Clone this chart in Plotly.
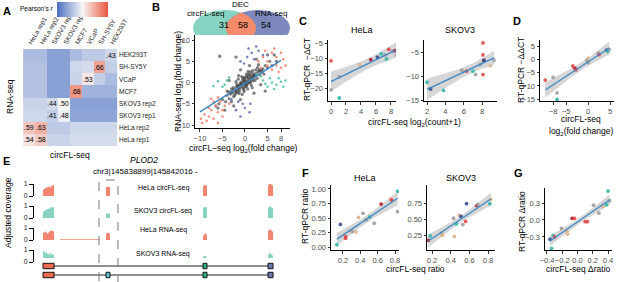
import numpy as np
import plotly.graph_objects as go

W, H = 617, 282
FONT = "Liberation Sans, Arial, sans-serif"
TICK_C = "#4d4d4d"

def dom_x(a, b):
    return [a / W, b / W]

def dom_y(top, bottom):
    return [1 - bottom / H, 1 - top / H]

def px(x):
    return x / W

def py(y):
    return 1 - y / H

# ---------------- A: correlation heatmap ----------------
samples = ["HeLa rep1", "HeLa rep2", "SKOV3 rep1", "SKOV3 rep2", "MCF7", "VCaP", "SH-SY5Y", "HEK293T"]
cell_group = [0, 0, 1, 1, 2, 3, 4, 5]
corr = [
    [0.54, 0.58, 0.42, 0.42, 0.44, 0.44, 0.44, 0.44],
    [0.59, 0.63, 0.40, 0.40, 0.43, 0.43, 0.43, 0.43],
    [0.43, 0.43, 0.41, 0.48, 0.32, 0.32, 0.32, 0.32],
    [0.42, 0.42, 0.44, 0.50, 0.31, 0.31, 0.31, 0.31],
    [0.38, 0.38, 0.31, 0.31, 0.68, 0.35, 0.35, 0.35],
    [0.38, 0.38, 0.31, 0.31, 0.42, 0.53, 0.41, 0.37],
    [0.38, 0.38, 0.31, 0.31, 0.43, 0.44, 0.66, 0.41],
    [0.37, 0.37, 0.31, 0.31, 0.37, 0.40, 0.40, 0.43],
]

# ---------------- B: Venn + scatter ----------------
venn_counts = [31, 58, 54]
gray_x = [-0.5, 0.2, 0.8, -1.0, 1.5, -1.6, 2.0, -2.2, 0.5, -0.4, 1.0, -1.2, 2.5, -2.8, 3.0, -3.2, 0.0, 0.0, 1.8,
          -1.8, 2.8, -2.5, 3.6, -3.5, 1.2, -1.3, 0.6, -0.7, 4.0, -4.0, 2.2, -2.0, 1.4, -1.5, 0.3, -0.2, 3.3, -3.0,
          4.5, -4.3, 0.9, -0.9, 2.4, -2.3, 1.7, -1.9, 0.4, -0.3, 3.8, -3.6, 5.0, -5.0, 1.1, -1.1, 2.7, -2.6, 0.7,
          -0.6, 3.0, -3.0, 1.6, -1.4, 4.2, -4.0, 2.0, -2.0, 0.1, 0.3, -0.2, 1.3, -1.3, 5.5, -5.8, 6.0, -6.0, -2.0,
          4.5, -3.5, 3.5, 2.0, -1.0, 1.0, -1.0, 6.5, -6.5, 7.0, 5.0, -4.5, 2.5, -2.5, -5.6, 0.6, -0.8, 1.9, -1.7,
          -0.1, 0.4, -0.6, 0.9, -1.2, 1.4, -0.3, 0.7, -0.9, 1.1, -1.6, 2.1, -2.4, 0.2, -0.5, 1.6, -1.1, 2.6,
          -2.9, 3.2, 0.0, 0.5, -0.2, 1.2, -0.7, 0.3, -1.4, 1.8, -2.1, 2.3, 3.4, -3.3, 0.8, -0.4, 1.0, -1.9]
gray_y = [-0.3, 0.4, 0.6, -0.8, 1.2, -1.4, 1.5, -1.8, -0.4, 0.5, 1.8, -2.0, 2.2, -2.4, 2.6, -2.7, 1.0, -1.0, 0.4,
          -0.4, 3.5, -3.3, 3.0, -3.8, 2.5, -2.6, -1.5, 1.4, 3.2, -3.0, 0.5, 0.2, -0.6, 0.8, 2.0, -2.1, 1.8, -1.5,
          4.0, -4.5, 0.0, 0.1, 3.0, -3.0, 2.8, -1.0, 1.5, -1.6, 2.5, -2.2, 3.5, -4.0, 0.9, -1.2, 1.0, -1.2, 2.6,
          -2.8, 4.2, -4.5, -1.2, 1.6, 2.0, -2.0, 2.0, -2.0, 0.1, -0.2, 0.3, 1.4, -1.5, 5.0, -5.0, 4.0, -6.0, 6.0,
          -2.0, 0.5, -0.5, -2.5, 3.0, 4.0, -4.0, 6.5, -5.5, 5.0, 6.5, -6.5, 5.5, -5.5, 6.2, 0.2, -0.5, 1.1, -0.9,
          0.6, -0.1, -0.9, 0.2, -0.6, 0.7, 0.3, 1.1, -0.2, 0.4, -2.2, 1.6, -1.7, -0.7, 0.9, 2.1, -0.5, 1.9,
          -2.1, 2.9, -0.6, 1.3, 1.2, 0.0, -0.4, -0.9, -0.8, 1.5, -2.6, 1.7, 2.7, -2.4, 1.9, -1.4, 0.3, -2.3]
red_x = [-9.5, -9.0, -8.5, -8.0, -7.5, -7.0, -6.5, -6.0, -5.5, -9.8, -8.0, -7.0, -4.5, -6.0, -5.0, -3.5, -6.0,
         -7.5, -5.0, 3.0, 4.0, 5.0, 6.0, 7.0, 8.0, 5.0, 6.0, 7.0, 8.0, 9.0, 4.5, 6.5, 3.5, 8.5, 7.5]
red_y = [-9.5, -7.5, -9.0, -8.0, -6.5, -8.5, -5.5, -7.0, -4.5, -8.5, -6.0, -4.5, -5.5, -9.5, -6.5, -5.0, -3.5,
         -3.8, -8.0, 5.0, 6.0, 5.0, 7.0, 6.0, 7.0, 4.0, 3.0, 4.0, 3.5, 4.0, 7.5, 8.0, 3.5, 5.5, 2.5]
teal_x = [4.0, 5.0, 6.0, 7.0, 8.0, 5.5, 6.5, 7.5, 4.5, 8.5, -4.0, -5.0, -6.0, -4.5, -3.5, -7.0, 3.5, 9.0, 2.5]
teal_y = [0.5, -1.0, 0.0, -0.5, 0.2, 1.0, -1.5, 1.0, -0.3, -1.0, 0.5, -1.0, 0.3, -0.5, 1.2, -0.8, 1.5, 0.5, 2.0]
blue_x = [-1.0, 0.5, 1.5, -0.5, 0.0, 1.0, -1.5, 2.0, -2.0, 0.8, -0.2, 1.2, 2.5, -1.0, 3.0, 4.0, -3.0]
blue_y = [5.0, 6.0, 7.0, -5.0, -6.0, -7.0, -4.5, 5.5, -6.5, 8.0, 4.5, -5.0, 8.5, -8.0, 7.5, 6.5, -4.0]

# ---------------- C / D / F / G scatter data ----------------
ch_x = [0.0, 0.0, 1.1, 1.1, 3.8, 5.3, 6.2, 6.7, 7.2, 7.4, 7.7, 8.2, 8.5, 8.75]
ch_y = [-10.9, -20.5, -23.2, -16.1, -12.2, -10.5, -9.7, -8.6, -8.9, -10.3, -7.1, -7.8, -7.5, -8.9]
ch_c = ["r", "g", "t", "g", "tan", "dr", "b", "t", "g", "t", "r", "g", "dr", "g"]
cs_x = [2.0, 2.4, 3.8, 5.8, 6.3, 7.0, 7.3, 7.8, 8.1, 8.1, 8.2, 8.2, 8.1, 8.9, 9.3]
cs_y = [-11.2, -12.6, -12.9, -8.7, -8.9, -8.9, -9.6, -7.5, -3.0, -5.5, -6.7, -6.6, -9.6, -7.8, -6.6]
cs_c = ["t", "b", "t", "g", "r", "t", "g", "g", "r", "r", "dr", "b", "r", "tan", "g"]
d_x = [-9.8, -8.0, -7.1, -7.1, -3.5, -3.0, -2.8, -0.3, 0.0, 0.0, 2.3, 2.5, 4.2, 4.5, 4.8]
d_y = [-7.8, -6.8, -12.6, -15.1, -2.5, -3.4, -4.0, -0.3, 0.5, -1.2, 2.3, 1.8, 3.5, 3.0, 3.8]
d_c = ["r", "g", "g", "t", "r", "dr", "r", "g", "tan", "g", "g", "r", "b", "t", "g"]
fh_x = [0.13, 0.17, 0.23, 0.23, 0.28, 0.31, 0.35, 0.38, 0.43, 0.47, 0.51, 0.56, 0.64, 0.75, 0.76, 0.83, 0.83]
fh_y = [0.04, 0.39, 0.15, 0.18, 0.28, 0.27, 0.26, 0.51, 0.58, 0.47, 0.52, 0.41, 0.74, 0.83, 0.81, 0.96, 0.61]
fh_c = ["t", "b", "r", "r", "tan", "g", "tan", "tan", "g", "g", "t", "g", "dr", "tan", "r", "t", "g"]
fs_x = [0.16, 0.18, 0.30, 0.31, 0.43, 0.44, 0.46, 0.49, 0.51, 0.53, 0.56, 0.57, 0.68, 0.69, 0.83, 0.82]
fs_y = [0.17, 0.24, 0.28, 0.25, 0.52, 0.23, 0.43, 0.57, 0.55, 0.42, 0.47, 0.75, 0.72, 0.74, 0.82, 0.75]
fs_c = ["dr", "t", "g", "tan", "g", "tan", "t", "tan", "b", "g", "r", "b", "dr", "g", "tan", "t"]
g_x = [-0.36, -0.34, -0.32, -0.30, -0.21, -0.14, -0.13, -0.07, -0.04, 0.10, 0.13, 0.21, 0.28, 0.33, 0.38, 0.40, 0.42]
g_y = [-0.34, -0.50, -0.27, -0.30, -0.15, -0.20, -0.25, 0.03, 0.03, -0.03, -0.03, 0.26, 0.12, 0.24, 0.27, 0.51, 0.34]
g_c = ["b", "t", "t", "r", "g", "tan", "tan", "dr", "r", "r", "r", "g", "g", "tan", "t", "t", "g"]

# ---------------- E: coverage tracks ----------------
exons = [(0, 150), (854, 908), (2168, 2222), (3049, 3117)]
exon_colors = ["#ee6a50", "#63c7d6", "#2bb48e", "#6a78b4"]
transcripts = [[0, 2, 3], [0, 1, 2, 3]]
tracks = ["HeLa circFL-seq", "SKOV3 circFL-seq", "HeLa RNA-seq", "SKOV3 RNA-seq"]
track_colors = ["#f2856f", "#86d3c1", "#f2856f", "#86d3c1"]
coverage = [
    [[0.55, 0.6, 0.65, 0.7, 0.72, 0.75, 0.8, 0.7, 0.85, 0.9, 0.88], [0.75, 0.78, 0.78, 0.75],
     [0.85, 0.9, 0.9, 0.88], [0.9, 1.0, 1.0, 0.95, 0.9]],
    [[0.55, 0.6, 0.62, 0.7, 0.75, 0.78, 0.8, 0.85, 0.88, 0.9, 0.9], [0.35, 0.38, 0.38, 0.35],
     [0.85, 0.9, 0.9, 0.9], [0.85, 0.95, 0.95, 0.9, 0.85]],
    [[0.6, 0.65, 0.7, 0.6, 0.55, 0.6, 0.7, 0.75, 0.8, 0.78, 0.7], [0.55, 0.6, 0.6, 0.55],
     [0.35, 0.5, 0.55, 0.45], [0.75, 0.85, 0.85, 0.8, 0.7]],
    [[0.9, 0.85, 0.75, 0.8, 0.7, 0.65, 0.75, 0.6, 0.7, 0.65, 0.6], [0.2, 0.25, 0.25, 0.2],
     [0.45, 0.5, 0.5, 0.4], [0.6, 0.75, 0.7, 0.65, 0.55]],
]
intron_cov = [[], [], [(230, 770, 0.06)], [(2222, 2520, 0.08)]]

CMAP = {"r": "#e0474c", "dr": "#b2182b", "t": "#35b6a8", "g": "#9e9e9e",
        "tan": "#dcb48e", "b": "#3f4f8f"}

fig = go.Figure()

# ---- A heatmap
fig.add_trace(go.Heatmap(
    z=corr, x=samples, y=samples,
    colorscale=[[0, "#4a6fc1"], [0.5, "#f7f7f7"], [1, "#e9573f"]], zmin=0.2, zmax=0.8,
    xaxis="x", yaxis="y",
    colorbar=dict(orientation="h", x=82.5 / W, xanchor="center", y=py(2), yanchor="top",
                  len=51 / W, lenmode="fraction", thickness=15, showticklabels=False,
                  ticks="", outlinewidth=0, xpad=0, ypad=0),
))

# ---- B venn
cx_l, cx_r, cy, rx_l, rx_r, ry = 224.5, 258.0, 28.0, 31.5, 32.0, 18.0
t = np.linspace(-np.pi, np.pi, 300)
lx, ly = cx_l + rx_l * np.cos(t), cy + ry * np.sin(t)
t2 = np.linspace(0, 2 * np.pi, 300)
rxp, ryp = cx_r + rx_r * np.cos(t2), cy + ry * np.sin(t2)
fig.add_trace(go.Scatter(x=lx, y=ly, fill="toself", fillcolor="#86d3c1", line=dict(width=0),
                         mode="lines", xaxis="x2", yaxis="y2", hoverinfo="skip"))
fig.add_trace(go.Scatter(x=rxp, y=ryp, fill="toself", fillcolor="#7d88bd", line=dict(width=0),
                         mode="lines", xaxis="x2", yaxis="y2", hoverinfo="skip"))
in_r = ((lx - cx_r) / rx_r) ** 2 + ((ly - cy) / ry) ** 2 <= 1
in_l = ((rxp - cx_l) / rx_l) ** 2 + ((ryp - cy) / ry) ** 2 <= 1
lens_x = np.concatenate([lx[in_r], rxp[in_l]])
lens_y = np.concatenate([ly[in_r], ryp[in_l]])
fig.add_trace(go.Scatter(x=lens_x, y=lens_y, fill="toself", fillcolor="#f58a6c", line=dict(width=0),
                         mode="lines", xaxis="x2", yaxis="y2", hoverinfo="skip"))

# ---- B scatter
for xs, ys, col, op, sz in [(gray_x, gray_y, "#4a4a4a", 0.7, 3.3), (red_x, red_y, "#f4866b", 0.9, 2.6),
                            (teal_x, teal_y, "#56c1ad", 0.9, 2.6), (blue_x, blue_y, "#6673b0", 0.9, 2.6)]:
    fig.add_trace(go.Scatter(x=xs, y=ys, mode="markers", xaxis="x3", yaxis="y3",
                             marker=dict(size=sz, color=col, opacity=op, line=dict(width=0))))
bx_all = np.array(gray_x + red_x + teal_x + blue_x)
by_all = np.array(gray_y + red_y + teal_y + blue_y)
b1, b0 = np.polyfit(bx_all, by_all, 1)
lx_b = np.array([-10.0, 8.0])
fig.add_trace(go.Scatter(x=lx_b, y=b0 + b1 * lx_b, mode="lines", xaxis="x3", yaxis="y3",
                         line=dict(color="#3f88c5", width=1.5)))


def add_fit(xv, yv, cols, xa, ya):
    x = np.array(xv, float)
    y = np.array(yv, float)
    n = len(x)
    b, a = np.polyfit(x, y, 1)
    xs = np.linspace(x.min(), x.max(), 60)
    yh = a + b * xs
    resid = y - (a + b * x)
    s = np.sqrt((resid ** 2).sum() / (n - 2))
    sxx = ((x - x.mean()) ** 2).sum()
    se = s * np.sqrt(1 / n + (xs - x.mean()) ** 2 / sxx)
    tval = 2.13
    up, lo = yh + tval * se, yh - tval * se
    fig.add_trace(go.Scatter(x=np.concatenate([xs, xs[::-1]]), y=np.concatenate([up, lo[::-1]]),
                             fill="toself", fillcolor="rgba(153,153,153,0.4)", line=dict(width=0),
                             mode="lines", xaxis=xa, yaxis=ya, hoverinfo="skip"))
    fig.add_trace(go.Scatter(x=x, y=y, mode="markers", xaxis=xa, yaxis=ya,
                             marker=dict(size=3.8, color=[CMAP[c] for c in cols], opacity=0.9,
                                         line=dict(width=0))))
    fig.add_trace(go.Scatter(x=xs, y=yh, mode="lines", xaxis=xa, yaxis=ya,
                             line=dict(color="#3f88c5", width=1.3)))


add_fit(ch_x, ch_y, ch_c, "x4", "y4")
add_fit(cs_x, cs_y, cs_c, "x5", "y5")
add_fit(d_x, d_y, d_c, "x6", "y6")
add_fit(fh_x, fh_y, fh_c, "x7", "y7")
add_fit(fs_x, fs_y, fs_c, "x8", "y8")
add_fit(g_x, g_y, g_c, "x9", "y9")

# ---- E coverage
for i in range(4):
    segs = []
    for (s, e), vals in zip(exons, coverage[i]):
        segs.append((s, e, vals))
    for (s, e, v) in intron_cov[i]:
        segs.append((s, e, [v]))
    segs.sort(key=lambda q: q[0])
    xs, ys = [], []
    for s, e, vals in segs:
        edges = np.linspace(s, e, len(vals) + 1)
        xs += list(edges[:-1]) + [e]
        ys += list(vals) + [0]
    fig.add_trace(go.Scatter(x=xs, y=ys, mode="lines", line=dict(width=0, shape="hv"),
                             fill="tozeroy", fillcolor=track_colors[i],
                             xaxis="x10", yaxis=f"y{10 + i}", hoverinfo="skip"))

shapes = []
for ti, ex_list in enumerate(transcripts):
    yy = ti + 1
    shapes.append(dict(type="line", xref="x10", yref="y14", x0=exons[0][0], x1=exons[-1][1],
                       y0=yy, y1=yy, line=dict(color="#222", width=1.2)))
    for k in ex_list:
        s, e = exons[k]
        shapes.append(dict(type="rect", xref="x10", yref="y14", x0=s, x1=e, y0=yy - 0.3, y1=yy + 0.3,
                           fillcolor=exon_colors[k], line=dict(color="#111", width=1)))
e2s, e2e = exons[1]
shapes.append(dict(type="rect", xref="x10", yref="paper", x0=e2s - 95, x1=e2e + 108, y0=py(284), y1=py(180),
                   line=dict(color="#777", width=1, dash="dash"), fillcolor="rgba(0,0,0,0)"))

# ---------------- layout ----------------
def sc_x(dom, rng, tv, anchor, tt=None):
    d = dict(domain=dom, range=rng, tickvals=tv, anchor=anchor, showline=True, linecolor="black",
             linewidth=1, ticks="outside", ticklen=2.5, tickwidth=1, tickcolor="#333", tickangle=0,
             tickfont=dict(size=7.5, color=TICK_C), showgrid=False, zeroline=False, automargin=False)
    if tt is not None:
        d["ticktext"] = tt
    return d


layout = dict(
    width=W, height=H, margin=dict(l=0, r=0, t=0, b=0, autoexpand=False), showlegend=False,
    plot_bgcolor="white", paper_bgcolor="white", font=dict(family=FONT, color="black"),
    shapes=shapes,
    xaxis=dict(domain=dom_x(22, 118), anchor="y", side="top", tickangle=-60, ticks="",
               tickfont=dict(size=6.5, color="#222"), showgrid=False, zeroline=False, automargin=False),
    yaxis=dict(domain=dom_y(49, 146), anchor="x", side="right", ticks="",
               tickfont=dict(size=6.5, color="#222"), showgrid=False, zeroline=False, automargin=False),
    xaxis2=dict(domain=dom_x(185, 295), range=[185, 295], anchor="y2", visible=False),
    yaxis2=dict(domain=dom_y(0, 50), range=[50, 0], anchor="x2", visible=False),
    xaxis3=sc_x(dom_x(195, 290), [-11.1, 10.0], [-10, -5, 0, 5, 8], "y3"),
    yaxis3=sc_x(dom_y(35, 128), [-10.7, 11.2], [-10, -5, 0, 5, 10], "x3"),
    xaxis4=sc_x(dom_x(328, 396), [-0.4, 8.67], [0, 2, 4, 6, 8], "y4"),
    yaxis4=sc_x(dom_y(40, 101), [-24.2, -4.0], [-20, -15, -10, -5], "x4"),
    xaxis5=sc_x(dom_x(424, 497), [1.67, 9.63], [2, 4, 6, 8], "y5"),
    yaxis5=sc_x(dom_y(40, 101), [-15.1, -2.4], [-15, -10, -5], "x5"),
    xaxis6=sc_x(dom_x(540, 614), [-11.0, 5.9], [-8, -5, 0, 5], "y6"),
    yaxis6=sc_x(dom_y(40, 101), [-15.7, 7.3], [-15, -10, -5, 0, 5], "x6"),
    xaxis7=sc_x(dom_x(331, 399), [0.062, 0.846], [0.2, 0.4, 0.6, 0.8], "y7"),
    yaxis7=sc_x(dom_y(185, 250), [-0.05, 1.068], [0, 0.25, 0.5, 0.75, 1.0], "x7",
                ["0.00", "0.25", "0.50", "0.75", "1.00"]),
    xaxis8=sc_x(dom_x(427, 495), [0.146, 0.875], [0.2, 0.4, 0.6, 0.8], "y8"),
    yaxis8=sc_x(dom_y(185, 250), [0.016, 1.047], [0.25, 0.5, 0.75], "x8", ["0.25", "0.50", "0.75"]),
    xaxis9=sc_x(dom_x(545, 612), [-0.426, 0.452], [-0.4, -0.2, 0.0, 0.2, 0.4], "y9",
                ["−0.4", "−0.2", "0.0", "0.2", "0.4"]),
    yaxis9=sc_x(dom_y(188, 250), [-0.53, 0.565], [-0.3, 0.0, 0.3], "x9", ["−0.3", "0.0", "0.3"]),
    xaxis10=dict(domain=dom_x(40, 285), range=[-40.6, 3279], anchor="y14", visible=False),
    yaxis14=dict(domain=dom_y(258, 282), range=[2.78, 0.11], anchor="x10", visible=False),
)
track_box = [(184, 196), (206, 218), (228, 240), (250, 262)]
for i, (tp, bt) in enumerate(track_box):
    layout[f"yaxis{10 + i}"] = dict(domain=dom_y(tp, bt), range=[0, 1], anchor="free", position=33 / W,
                                    tickvals=[0, 1], ticktext=["0", "1"], showline=True,
                                    linecolor="black", linewidth=1, ticks="outside", ticklen=4, tickwidth=1,
                                    tickcolor="black", tickfont=dict(size=7, color="#222"), showgrid=False,
                                    zeroline=False, automargin=False)
fig.update_layout(**layout)

ann = []

# heatmap cell labels (same cell line only)
for r, row in enumerate(corr):
    for c, v in enumerate(row):
        if cell_group[r] == cell_group[c]:
            ann.append(dict(x=samples[c], y=samples[r], xref="x", yref="y", text=f"{v:.2f}"[1:],
                            showarrow=False, font=dict(size=7, color="black", family=FONT)))


def A(x, y, txt, size=8.5, bold=False, angle=0, xanchor="center", italic=False, color="black"):
    if bold:
        txt = f"<b>{txt}</b>"
    if italic:
        txt = f"<i>{txt}</i>"
    ann.append(dict(x=px(x), y=py(y), xref="paper", yref="paper", text=txt, showarrow=False,
                    font=dict(size=size, color=color, family=FONT), textangle=angle,
                    xanchor=xanchor, yanchor="middle"))


# panel letters
A(7, 11, "A", 11, bold=True)
A(156, 7, "B", 11, bold=True)
A(303, 21, "C", 11, bold=True)
A(517, 21, "D", 11, bold=True)
A(6, 161, "E", 11, bold=True)
A(305, 173, "F", 11, bold=True)
A(518, 173, "G", 11, bold=True)
# A
A(37, 9, "Pearson's <i>r</i>", 6.5)
A(10, 97, "RNA-seq", 8.5, angle=-90)
A(70, 155, "circFL-seq", 8.5)
# B
A(240, 4, "DEC", 8)
A(205, 13, "circFL-seq", 8)
A(271, 13, "RNA-seq", 8)
A(224, 25, str(venn_counts[0]), 9)
A(243, 25, str(venn_counts[1]), 9)
A(266, 25, str(venn_counts[2]), 9)
A(178, 82, "RNA-seq log<sub>2</sub>(fold change)", 8.5, angle=-90)
A(243, 148, "circFL−seq log<sub>2</sub>(fold change)", 8.5)
# C
A(362, 30, "HeLa", 9)
A(460, 30, "SKOV3", 9)
A(307, 70, "RT-qPCR  −ΔCT", 8.5, angle=-90)
A(414, 122, "circFL-seq log<sub>2</sub>(count+1)", 8.5)
# D
A(521, 70, "RT-qPCR −ΔΔCT", 8.5, angle=-90)
A(581, 119, "circFL-seq", 8.5)
A(581, 131, "log<sub>2</sub>(fold change)", 8.5)
# E
A(144, 160, "PLOD2", 8.5, italic=True)
A(145, 171, "chr3|145838899|145842016 -", 8)
for lbl, yy in zip(tracks, [188, 211, 230, 254]):
    A(163, yy, lbl, 7)
A(8, 213, "Adjusted coverage", 8.5, angle=-90)
# F
A(365, 178, "HeLa", 9)
A(461, 178, "SKOV3", 9)
A(305, 217, "RT-qPCR ratio", 8.5, angle=-90)
A(415, 269, "circFL-seq ratio", 8.5)
# G
A(522, 222, "RT-qPCR Δratio", 8.5, angle=-90)
A(578, 269, "circFL-seq Δratio", 8.5)

fig.update_layout(annotations=ann)
fig.write_html("out.html", config={"displayModeBar": False},
               post_script="document.body.style.margin='0px';document.body.style.padding='0px';")
